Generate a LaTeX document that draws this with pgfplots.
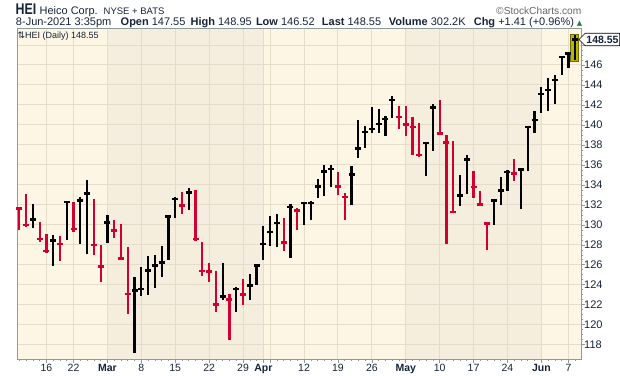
\documentclass[border=0pt]{standalone}
\usepackage{fontspec}
\setmainfont{Liberation Sans}
\newfontfamily\djv{DejaVu Sans}
\newfontfamily\narrowf{Liberation Sans}[FakeStretch=0.8]
\usepackage{pgfplots}
\pgfplotsset{compat=1.18}
\usepackage{pgfplotstable}
\usetikzlibrary{shapes.symbols}
\definecolor{lightbg}{RGB}{253,246,228}
\definecolor{darkbg}{RGB}{245,237,221}
\definecolor{gridc}{RGB}{229,220,202}
\definecolor{axisgray}{RGB}{140,155,155}
\definecolor{textdark}{RGB}{22,36,56}
\definecolor{barred}{RGB}{208,0,48}
\definecolor{hl}{RGB}{184,180,0}
\definecolor{upgreen}{RGB}{40,120,80}

\pgfplotstableread{
i h l c
2 132.1 129.73 130.53
5 129.0 125.83 128.43
7 132.27 128.5 132.27
9 132.77 128.1 132.43
10 134.5 127.1 133.13
13 131.0 128.23 130.23
17 124.73 117.17 123.43
18 125.73 122.9 123.57
19 126.9 122.93 125.43
20 127.0 123.63 125.93
21 127.9 124.73 126.23
22 131.0 126.43 130.83
23 132.83 130.73 132.57
25 133.67 131.5 133.23
30 126.17 122.5 122.83
32 123.73 121.23 123.57
34 125.1 122.43 123.93
35 126.0 123.93 125.93
36 129.9 126.5 128.05
37 130.9 127.9 129.25
38 131.05 127.83 130.15
40 132.08 126.73 131.78
42 132.17 130.02 132.15
43 132.4 130.5 132.2
44 134.6 132.73 133.83
45 135.97 132.9 135.33
46 135.97 133.83 135.57
49 135.9 132.0 135.03
50 140.5 136.73 137.63
51 139.9 137.73 139.27
52 141.77 139.17 139.63
53 141.6 139.17 140.07
54 140.9 138.9 140.57
55 142.9 140.73 142.53
60 138.3 134.93 138.17
61 142.05 137.35 141.75
65 135.03 131.93 132.93
66 137.0 133.13 136.53
70 132.47 130.03 132.43
71 134.8 132.03 133.43
72 135.53 133.43 135.27
74 135.63 131.6 135.53
75 139.87 135.43 139.8
76 141.37 139.2 140.53
77 143.77 141.2 143.13
78 144.7 141.43 143.47
79 145.03 142.1 144.47
80 146.87 145.03 146.8
81 147.2 145.7 147.14
82 148.95 146.52 148.55
}\blackbars

\pgfplotstableread{
i h l c
0 131.83 129.5 131.63
1 133.1 129.83 130.0
3 130.3 128.33 128.6
4 129.1 127.23 127.4
6 128.9 126.33 128.1
8 132.33 129.33 129.6
11 132.6 127.0 128.0
12 128.0 124.23 125.83
14 130.5 128.73 129.43
15 130.1 126.5 126.63
16 127.8 121.1 123.1
24 133.3 131.13 131.93
26 133.5 128.43 128.6
27 128.3 124.83 125.38
28 126.17 124.23 125.32
29 125.4 121.23 122.03
31 123.1 118.5 122.53
33 124.6 122.0 123.03
39 130.7 127.43 128.23
41 131.7 129.5 131.43
47 135.27 133.0 133.83
48 133.17 130.5 132.77
56 141.9 139.63 140.8
57 141.88 138.85 140.05
58 140.8 137.02 139.77
59 140.18 136.77 137.02
62 142.5 139.1 139.13
63 139.0 128.05 138.23
64 138.38 131.18 131.32
67 135.43 132.7 133.77
68 133.37 131.87 132.03
69 130.2 127.53 130.13
73 136.6 134.43 135.13
}\redbars

\begin{document}
\begin{tikzpicture}[x=1pt,y=1pt]
\path (0,0) rectangle (620,376);
\begin{axis}[
  at={(17pt,16pt)}, anchor=south west,
  scale only axis, width=565pt, height=332pt,
  set layers,
  xmin=-0.34, xmax=82.93, ymin=116.5, ymax=149.7,
  axis line style={draw=axisgray, line width=0.8pt},
  tick align=outside,
  xtick pos=bottom, ytick pos=right, yticklabel pos=right,
  major tick length=3pt, minor tick length=1.5pt,
  every tick/.style={axisgray, line width=0.6pt},
  xmajorgrids, ymajorgrids,
  major grid style={gridc, line width=0.9pt},
  xtick={4,8,13,18,23,28,33,36,37,42,47,52,57,62,67,72,77,81},
  xticklabels={16,22,\textbf{Mar},8,15,22,29,\textbf{Apr},{},12,19,26,\textbf{May},10,17,24,\textbf{Jun},7},
  minor xtick={0,1,...,82},
  ytick={118,120,...,148},
  yticklabels={118,120,122,124,126,128,130,132,134,136,138,140,142,144,146,{}},
  minor y tick num=3,
  /pgf/number format/assume math mode=true,
  tick label style={font=\fontsize{10.5}{12}\selectfont, text=textdark},
  xticklabel style={anchor=north, inner sep=0pt, yshift=-1pt},
  yticklabel style={anchor=west, inner sep=0pt, xshift=-0.5pt, font=\fontsize{11}{12}\selectfont},
]
\addplot[on layer=axis background, fill=lightbg, draw=none] coordinates {(-0.34,116.5) (82.93,116.5) (82.93,149.7) (-0.34,149.7)} -- cycle;
\addplot[on layer=axis background, fill=darkbg, draw=none] coordinates {(13,116.5) (36,116.5) (36,149.7) (13,149.7)} -- cycle;
\addplot[on layer=axis background, fill=darkbg, draw=none] coordinates {(57,116.5) (77,116.5) (77,149.7) (57,149.7)} -- cycle;
\addplot[fill=hl, draw=hl!60!black, line width=0.6pt] coordinates {(81.3,146.37) (82.5,146.37) (82.5,149.1) (81.3,149.1)} -- cycle;
\addplot[black, only marks, mark=-, mark size=3pt, mark options={line width=2.2pt},
  error bars/.cd, y dir=both, y explicit, error mark=none,
  error bar style={line width=2.2pt, solid}]
  table[x=i, y=c, y error plus expr=\thisrow{h}-\thisrow{c}, y error minus expr=\thisrow{c}-\thisrow{l}] {\blackbars};
\addplot[barred, only marks, mark=-, mark size=3pt, mark options={line width=2.2pt},
  error bars/.cd, y dir=both, y explicit, error mark=none,
  error bar style={line width=2.2pt, solid}]
  table[x=i, y=c, y error plus expr=\thisrow{h}-\thisrow{c}, y error minus expr=\thisrow{c}-\thisrow{l}] {\redbars};
\end{axis}
% header
\node[anchor=base west, inner sep=0pt, font=\narrowf\bfseries\fontsize{15.5}{16}\selectfont, text=textdark] at (15.5,361) {HEI};
\node[anchor=base west, inner sep=0pt, font=\fontsize{11}{11}\selectfont, text=textdark] at (39.5,361) {Heico Corp.};
\node[anchor=base west, inner sep=0pt, font=\fontsize{9.5}{10}\selectfont, text=textdark] at (103.6,361) {NYSE + BATS};
\node[anchor=base east, inner sep=0pt, font=\fontsize{10.2}{11}\selectfont, text=black!60] at (582,361) {©StockCharts.com};
\begin{scope}[every node/.style={anchor=base west, inner sep=0pt, font=\fontsize{11}{11}\selectfont, text=textdark}]
\node at (15.8,350) {8-Jun-2021 3:35pm};
\node at (120.6,350) {\textbf{Open} 147.55};
\node at (190.6,350) {\textbf{High} 148.95};
\node at (256,350) {\textbf{Low} 146.52};
\node at (322,350) {\textbf{Last} 148.55};
\node at (389,350) {\textbf{Volume} 302.2K};
\node at (474,350) {\textbf{Chg} +1.41 (+0.96\%)};
\end{scope}
\node[anchor=base east, inner sep=0pt, font=\djv\fontsize{7}{8}\selectfont, text=upgreen] at (583,350.5) {▲};
\node[anchor=base west, inner sep=0pt, font=\fontsize{9}{10}\selectfont, text=textdark] at (17.5,337.5) {{\djv ⇅}HEI (Daily) 148.55};
\node[signal, signal to=west, draw=black, line width=0.6pt, fill=white, inner xsep=1.2pt, inner ysep=0pt, minimum height=12.5pt, font=\bfseries\fontsize{10.5}{11}\selectfont, text=textdark, anchor=west] at (579,336.5) {148.55};
\end{tikzpicture}
\end{document}
